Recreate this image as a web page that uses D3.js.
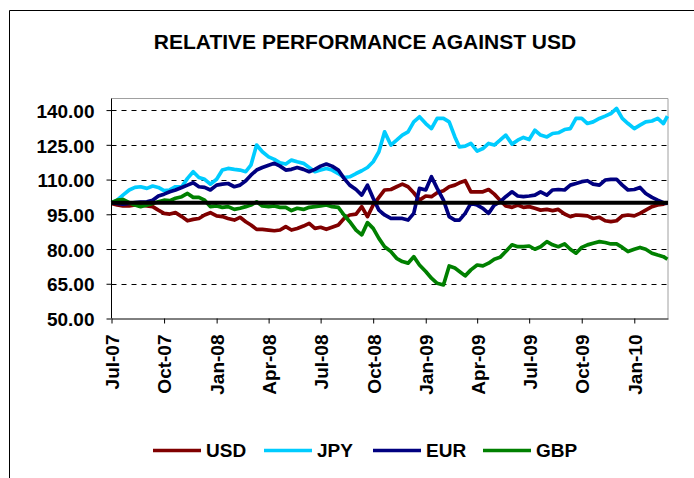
<!DOCTYPE html>
<html><head><meta charset="utf-8">
<script src="https://cdn.jsdelivr.net/npm/d3@7"></script>
<style>body{margin:0;background:#fff}svg{display:block}</style>
</head><body><svg id="c" width="694" height="478"></svg>
<script>
const dates = [
"2007-07-01","2007-07-11","2007-07-21","2007-08-01","2007-08-11","2007-08-21","2007-09-01","2007-09-11","2007-09-21",
"2007-10-01","2007-10-11","2007-10-21","2007-11-01","2007-11-11","2007-11-21","2007-12-01","2007-12-11","2007-12-21",
"2008-01-01","2008-01-11","2008-01-21","2008-02-01","2008-02-11","2008-02-21","2008-03-01","2008-03-11","2008-03-21",
"2008-04-01","2008-04-11","2008-04-21","2008-05-01","2008-05-11","2008-05-21","2008-06-01","2008-06-11","2008-06-21",
"2008-07-01","2008-07-11","2008-07-21","2008-08-01","2008-08-11","2008-08-21","2008-09-01","2008-09-11","2008-09-21",
"2008-10-01","2008-10-11","2008-10-21","2008-11-01","2008-11-11","2008-11-21","2008-12-01","2008-12-11","2008-12-21",
"2009-01-01","2009-01-11","2009-01-21","2009-02-01","2009-02-11","2009-02-21","2009-03-01","2009-03-11","2009-03-21",
"2009-04-01","2009-04-11","2009-04-21","2009-05-01","2009-05-11","2009-05-21","2009-06-01","2009-06-11","2009-06-21",
"2009-07-01","2009-07-11","2009-07-21","2009-08-01","2009-08-11","2009-08-21","2009-09-01","2009-09-11","2009-09-21",
"2009-10-01","2009-10-11","2009-10-21","2009-11-01","2009-11-11","2009-11-21","2009-12-01","2009-12-11","2009-12-21",
"2010-01-01","2010-01-11","2010-01-21","2010-02-01","2010-02-11","2010-02-21","2010-02-28"
];
const usd = [
99.7,99.0,98.6,98.6,99.0,99.0,98.6,98.3,96.8,95.4,
95.1,95.7,94.0,92.2,92.8,93.2,94.7,95.7,94.3,94.0,
93.2,92.5,93.7,91.8,90.4,88.5,88.5,88.2,87.9,88.2,
89.7,88.2,88.9,89.9,91.1,88.9,89.4,88.5,89.4,90.4,
93.2,94.7,95.1,98.3,94.0,99.0,102.3,105.5,105.7,106.9,
108.0,106.9,104.3,101.1,102.9,102.6,104.3,105.2,106.9,107.6,
108.6,109.5,104.7,104.7,104.7,105.7,103.7,101.1,98.6,98.0,
99.0,98.0,98.3,97.6,96.8,97.1,96.6,97.1,95.1,94.0,
94.7,94.5,94.3,93.2,93.7,92.2,91.8,92.2,94.3,94.7,
94.3,95.4,96.8,98.3,99.0,99.4,100.0
];
const jpy = [
100.0,101.1,103.3,105.5,106.6,106.9,106.2,107.2,106.6,105.2,
105.5,106.9,106.9,110.5,113.4,110.9,110.1,108.0,110.1,114.1,
114.8,114.4,114.1,113.4,116.2,124.9,122.0,119.8,118.7,117.2,
116.7,118.4,117.7,117.0,115.2,113.4,114.1,114.8,114.1,112.6,
110.9,111.2,112.6,113.8,115.2,117.7,122.0,130.6,124.9,127.0,
129.2,130.6,134.9,137.1,134.2,132.0,136.4,136.4,134.9,128.4,
124.1,124.4,125.6,122.3,123.4,125.6,124.9,127.0,129.2,125.3,
127.0,128.2,127.3,131.3,129.2,128.4,129.9,130.2,131.6,132.0,
136.4,136.4,134.2,134.9,136.4,137.4,138.5,140.7,136.4,134.2,
132.0,133.5,134.9,135.3,136.4,134.2,137.4
];
const eur = [
100.0,99.7,99.4,99.7,100.0,100.3,100.4,101.1,102.9,103.7,
104.7,105.5,106.6,107.6,108.6,106.9,106.6,105.5,107.6,108.0,
108.3,106.9,107.6,109.5,111.9,114.1,115.2,116.2,117.0,115.8,
114.1,114.4,115.2,114.4,113.4,114.4,115.8,116.7,115.8,114.1,
110.5,107.6,105.7,103.3,107.6,101.9,96.8,94.7,93.2,93.2,
93.2,92.5,95.4,106.2,105.5,111.2,106.2,101.1,94.0,92.5,
92.5,95.4,99.7,99.0,97.6,95.4,99.0,100.4,102.6,104.7,
102.9,102.6,102.9,103.3,104.7,103.3,105.5,105.7,105.5,107.6,
108.3,109.1,109.5,108.0,107.6,109.8,110.1,110.1,107.6,105.5,
105.7,106.6,104.0,102.3,101.1,100.0,99.7
];
const gbp = [
100.0,101.1,101.4,100.0,99.0,98.3,99.0,99.7,100.4,101.1,
100.9,101.9,102.6,104.0,102.3,102.3,101.1,98.3,98.6,98.0,
98.3,97.1,97.6,98.3,99.0,100.4,98.6,98.3,98.6,98.0,
98.0,96.6,97.6,97.1,98.0,98.3,98.6,99.0,98.3,98.0,
94.7,91.8,88.2,86.1,91.4,88.9,84.6,81.0,78.9,76.0,
74.6,73.9,76.7,73.1,70.3,67.4,65.2,64.5,72.7,71.8,
70.3,68.4,71.0,73.1,72.7,73.9,75.6,76.4,78.9,81.8,
81.0,81.0,81.3,79.9,81.0,83.2,81.8,81.0,82.2,79.9,
78.2,80.7,81.8,82.5,83.2,82.8,82.2,82.2,80.7,78.9,
79.9,80.7,79.9,78.2,77.4,76.7,75.6
];
const seriesNames = ["USD","JPY","EUR","GBP"];
const seriesColors = ["#800000","#00CCFF","#000080","#008000"];
const seriesValues = [usd, jpy, eur, gbp];
const baselineValue = 100;
const yTicks = [50,65,80,95,110,125,140];
const xTickDates = ["2007-07-01","2007-10-01","2008-01-01","2008-04-01","2008-07-01","2008-10-01","2009-01-01","2009-04-01","2009-07-01","2009-10-01","2010-01-01"];
const xTickLabels = ["Jul-07","Oct-07","Jan-08","Apr-08","Jul-08","Oct-08","Jan-09","Apr-09","Jul-09","Oct-09","Jan-10"];
const titleText = "RELATIVE PERFORMANCE AGAINST USD";

const parse = d3.utcParse("%Y-%m-%d");
const svg = d3.select("#c");
const FONT = "'Liberation Sans', Arial, sans-serif";
const L = 111.5, R = 668, T = 98.5, B = 318.5;

const x = d3.scaleUtc().domain([parse("2007-07-01"), parse("2010-03-01")]).range([L, R]);
const y = d3.scaleLinear().domain([50, 145]).range([B, T]);

// outer frame
svg.append("path").attr("d", "M9.5,478 L9.5,10.5 L694,10.5").attr("fill","none").attr("stroke","#000").attr("stroke-width",1);

// title
svg.append("text").attr("x", 365).attr("y", 49).attr("text-anchor","middle")
  .attr("font-family", FONT).attr("font-weight","bold").attr("font-size", 21).attr("fill","#000").text(titleText);

// plot border (top/right grey)
svg.append("path").attr("d", `M${L},${T} L${R},${T} L${R},${B}`).attr("fill","none").attr("stroke","#a0a0a0").attr("stroke-width",1);

// grid
svg.append("g").selectAll("line").data(yTicks.filter(v => v > 50)).join("line")
  .attr("x1", L).attr("x2", R).attr("y1", d => Math.round(y(d)) + 0.5).attr("y2", d => Math.round(y(d)) + 0.5)
  .attr("stroke", "#000").attr("stroke-width", 1).attr("stroke-dasharray", "5,5");

// series
const line = d3.line().x((d, i) => x(parse(dates[i]))).y(d => y(d));
seriesValues.forEach((vals, s) => {
  svg.append("path").datum(vals).attr("d", line).attr("fill","none")
    .attr("stroke", seriesColors[s]).attr("stroke-width", 3.7).attr("stroke-linejoin","round");
});

// baseline
svg.append("line").attr("x1", L).attr("x2", R).attr("y1", y(baselineValue)).attr("y2", y(baselineValue))
  .attr("stroke", "#000").attr("stroke-width", 4);

// axes
const yAxis = d3.axisLeft(y).tickValues(yTicks).tickFormat(d3.format(".2f")).tickSize(5).tickPadding(12);
const gy = svg.append("g").attr("transform", `translate(${L},0)`).call(yAxis);
gy.selectAll("text").attr("font-family", FONT).attr("font-weight","bold").attr("font-size", 19).attr("fill","#000").attr("dy","0.38em");
gy.select(".domain").attr("d", `M-0,${T}V${B}`).attr("stroke","#000");

const xAxis = d3.axisBottom(x).tickValues(xTickDates.map(parse)).tickFormat((d, i) => xTickLabels[i]).tickSize(5).tickSizeOuter(0);
const gx = svg.append("g").attr("transform", `translate(0,${B})`).call(xAxis);
gx.select(".domain").attr("stroke","#000");
gx.selectAll("text").attr("font-family", FONT).attr("font-weight","bold").attr("font-size", 19).attr("fill","#000")
  .attr("transform","rotate(-90)").attr("text-anchor","end").attr("x", -16).attr("y", 0).attr("dy","0.36em");

// legend
const legendX = [153, 264, 373, 483];
const lg = svg.append("g");
seriesNames.forEach((n, i) => {
  lg.append("line").attr("x1", legendX[i]).attr("x2", legendX[i] + 48).attr("y1", 450.5).attr("y2", 450.5)
    .attr("stroke", seriesColors[i]).attr("stroke-width", 3.5);
  lg.append("text").attr("x", legendX[i] + 53).attr("y", 450.5).attr("dy","0.36em")
    .attr("font-family", FONT).attr("font-weight","bold").attr("font-size", 19).attr("fill","#000").text(n);
});
</script></body></html>
